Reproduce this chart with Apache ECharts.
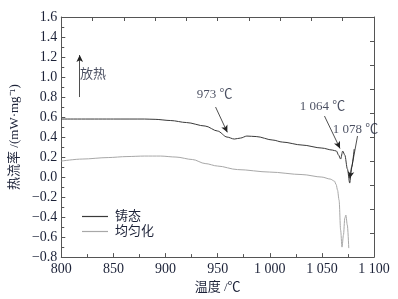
<!DOCTYPE html>
<html>
<head>
<meta charset="utf-8">
<script src="https://cdn.jsdelivr.net/npm/echarts@6/dist/echarts.min.js"></script>
<style>
  html, body { margin: 0; padding: 0; background: #fff; }
  #chart { width: 398px; height: 299px; }
</style>
</head>
<body>
<div id="chart"></div>
<script>
// 铸态 (as-cast) curve: [温度 ℃, 热流率]
var castT = [800, 850, 880, 890, 905, 920, 938, 950, 959, 966, 972, 978, 987, 1003, 1012, 1031, 1050, 1060, 1064, 1066, 1068, 1070, 1072, 1074.5, 1076.7, 1078.5, 1081]
var castV = [0.58, 0.58, 0.58, 0.577, 0.565, 0.545, 0.51, 0.46, 0.40, 0.38, 0.39, 0.41, 0.405, 0.37, 0.35, 0.32, 0.29, 0.27, 0.26, 0.22, 0.18, 0.26, 0.22, 0.08, -0.06, 0.10, 0.28]

// 均匀化 (homogenized) curve
var homoT = [800, 820, 845, 863, 880, 895, 910, 926, 938, 950, 969, 1000, 1031, 1050, 1058, 1062, 1063.7, 1065, 1066.5, 1068, 1069.3, 1070.7, 1072, 1073, 1074.4, 1075.8]
var homoV = [0.16, 0.18, 0.195, 0.205, 0.21, 0.21, 0.2, 0.175, 0.135, 0.11, 0.075, 0.05, 0.025, 0.0, -0.02, -0.04, -0.075, -0.13, -0.23, -0.53, -0.70, -0.58, -0.41, -0.38, -0.48, -0.71]

// 峰值标注
var annoText = ['973 ℃', '1 064 ℃', '1 078 ℃']
var annoLabelPos = [[947, 0.82], [1050.6, 0.70], [1082.3, 0.47]]
var annoArrowFrom = [[948, 0.70], [1052.5, 0.61], [1084.2, 0.41]]
var annoArrowTo = [[959.3, 0.447], [1067.4, 0.286], [1076.7, -0.015]]

var xTicks = [800, 850, 900, 950, 1000, 1050, 1100]
var yMin = -0.8, yMax = 1.6

var textColor = '#1c2238'
var fontFamily = '"Liberation Serif", "Noto Sans CJK SC", serif'

var myChart = echarts.init(document.getElementById('chart'))

function zip(a, b) {
  return a.map(function (v, i) { return [v, b[i]] })
}

var arrowLines = annoArrowFrom.map(function (p, i) {
  return [{ coord: p }, { coord: annoArrowTo[i] }]
})
// 放热 向上箭头
arrowLines.push([{ coord: [817.7, 0.80] }, { coord: [817.7, 1.22] }])

var textPoints = annoLabelPos.map(function (p, i) {
  return { value: p, name: annoText[i] }
})
textPoints.push({ value: [830.5, 1.02], name: '放热' })

var option = {
  backgroundColor: '#fff',
  animation: false,
  textStyle: { fontFamily: fontFamily },
  grid: { left: 52, right: 24, top: 17, bottom: 41, containLabel: false },
  legend: {
    data: [
      { name: '铸态', icon: 'rect', itemStyle: { color: '#3a3a3a' } },
      { name: '均匀化', icon: 'rect', itemStyle: { color: '#a8a8a8' } }
    ],
    orient: 'vertical',
    left: 77,
    top: 204,
    itemWidth: 26,
    itemHeight: 1.2,
    itemGap: 0,
    textStyle: { fontSize: 13, lineHeight: 15, color: textColor, fontFamily: fontFamily, padding: [0, 0, 0, 2] }
  },
  xAxis: [
    {
      type: 'value',
      min: 800,
      max: 1100,
      interval: 50,
      name: '温度 /℃',
      nameLocation: 'middle',
      nameGap: 21,
      nameTextStyle: { fontSize: 13, color: textColor, fontFamily: fontFamily },
      axisLine: { show: true, onZero: false, lineStyle: { color: '#555', width: 1 } },
      axisTick: { inside: true, length: 4, lineStyle: { color: '#555' } },
      minorTick: { show: true, splitNumber: 2, length: 3, lineStyle: { color: '#555' } },
      splitLine: { show: false },
      axisLabel: {
        fontSize: 14,
        color: textColor,
        margin: 5,
        formatter: function (v) {
          return v >= 1000 ? String(v).replace(/^(\d)(\d{3})$/, '$1 $2') : String(v)
        }
      }
    },
    {
      type: 'value',
      position: 'top',
      min: 0,
      max: 10,
      interval: 1,
      axisLine: { show: true, onZero: false, lineStyle: { color: '#555', width: 1 } },
      axisTick: { inside: true, length: 4, lineStyle: { color: '#555' } },
      axisLabel: { show: false },
      splitLine: { show: false }
    }
  ],
  yAxis: [
    {
      type: 'value',
      min: yMin,
      max: yMax,
      interval: 0.2,
      name: '热流率 /(mW·mg⁻¹)',
      nameLocation: 'middle',
      nameGap: 21,
      nameTextStyle: { fontSize: 13, color: textColor, fontFamily: fontFamily },
      axisLine: { show: true, onZero: false, lineStyle: { color: '#555', width: 1 } },
      axisTick: { inside: true, length: 4, lineStyle: { color: '#555' } },
      minorTick: { show: true, splitNumber: 2, length: 3, lineStyle: { color: '#555' } },
      splitLine: { show: false },
      axisLabel: {
        fontSize: 14,
        color: textColor,
        margin: 4,
        formatter: function (v) {
          return v.toFixed(1).replace('-', '−')
        }
      }
    },
    {
      type: 'value',
      position: 'right',
      min: 0,
      max: 10,
      interval: 1,
      axisLine: { show: true, onZero: false, lineStyle: { color: '#555', width: 1 } },
      axisTick: { inside: true, length: 4, lineStyle: { color: '#555' } },
      axisLabel: { show: false },
      splitLine: { show: false }
    }
  ],
  series: [
    {
      name: '铸态',
      type: 'line',
      data: zip(castT, castV),
      symbol: 'none',
      smooth: 0.3,
      smoothMonotone: 'x',
      lineStyle: { color: '#3a3a3a', width: 1 },
      itemStyle: { color: '#3a3a3a' },
      z: 3
    },
    {
      name: '均匀化',
      type: 'line',
      data: zip(homoT, homoV),
      symbol: 'none',
      smooth: 0.3,
      smoothMonotone: 'x',
      lineStyle: { color: '#a8a8a8', width: 1 },
      itemStyle: { color: '#a8a8a8' },
      z: 2
    },
    {
      name: 'annotations',
      type: 'scatter',
      data: textPoints,
      symbolSize: 0,
      silent: true,
      label: {
        show: true,
        position: 'inside',
        formatter: '{b}',
        fontSize: 13,
        color: textColor,
        fontFamily: fontFamily
      },
      markLine: {
        silent: true,
        symbol: ['none', 'arrow'],
        symbolSize: [5, 7],
        label: { show: false },
        lineStyle: { color: '#222', width: 0.8, type: 'solid' },
        data: arrowLines
      }
    }
  ]
}

myChart.setOption(option)
</script>
</body>
</html>
